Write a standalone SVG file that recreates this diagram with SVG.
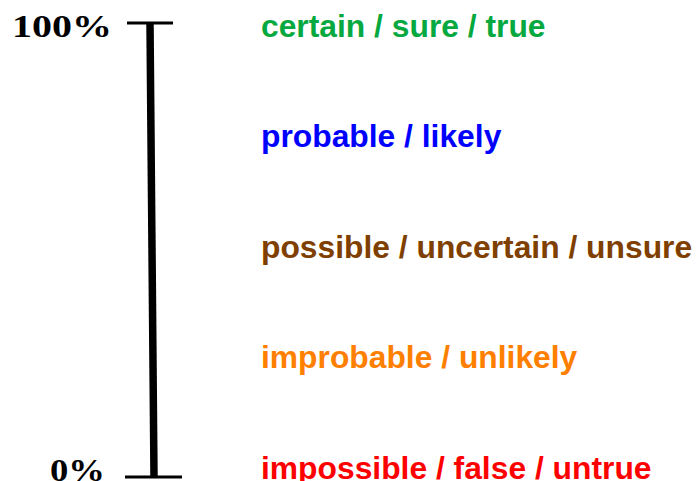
<svg xmlns="http://www.w3.org/2000/svg" width="696" height="481" viewBox="0 0 696 481">
<style>
.lbl{font-family:"Liberation Sans",Arial,sans-serif;font-weight:bold;font-size:31.8px}
.pct{font-family:"Liberation Serif","Times New Roman",serif;font-weight:bold;font-size:32px;fill:#000}
.bar{stroke:#000;fill:none}
</style>
<rect width="696" height="481" fill="#fff"/>
<g id="scale">
<line class="bar" x1="150" y1="23" x2="154" y2="477" stroke-width="7.5"/>
<line class="bar" x1="127" y1="23" x2="173" y2="23" stroke-width="3"/>
<line class="bar" x1="125" y1="477" x2="182" y2="477" stroke-width="3"/>
</g>
<g id="pct100"><text class="pct" x="12" y="37" textLength="100" lengthAdjust="spacingAndGlyphs">100%</text></g>
<g id="pct0"><text class="pct" x="50" y="481" textLength="55" lengthAdjust="spacingAndGlyphs">0%</text></g>
<g id="certain"><text class="lbl" x="261" y="37" fill="#06a840">certain / sure / true</text></g>
<g id="probable"><text class="lbl" x="261" y="147" fill="#0000ff">probable / likely</text></g>
<g id="possible"><text class="lbl" x="261" y="258" fill="#7f3f00">possible / uncertain / unsure</text></g>
<g id="improbable"><text class="lbl" x="261" y="368" fill="#ff8000">improbable / unlikely</text></g>
<g id="impossible"><text class="lbl" x="261" y="479" fill="#ff0000">impossible / false / untrue</text></g>
</svg>
